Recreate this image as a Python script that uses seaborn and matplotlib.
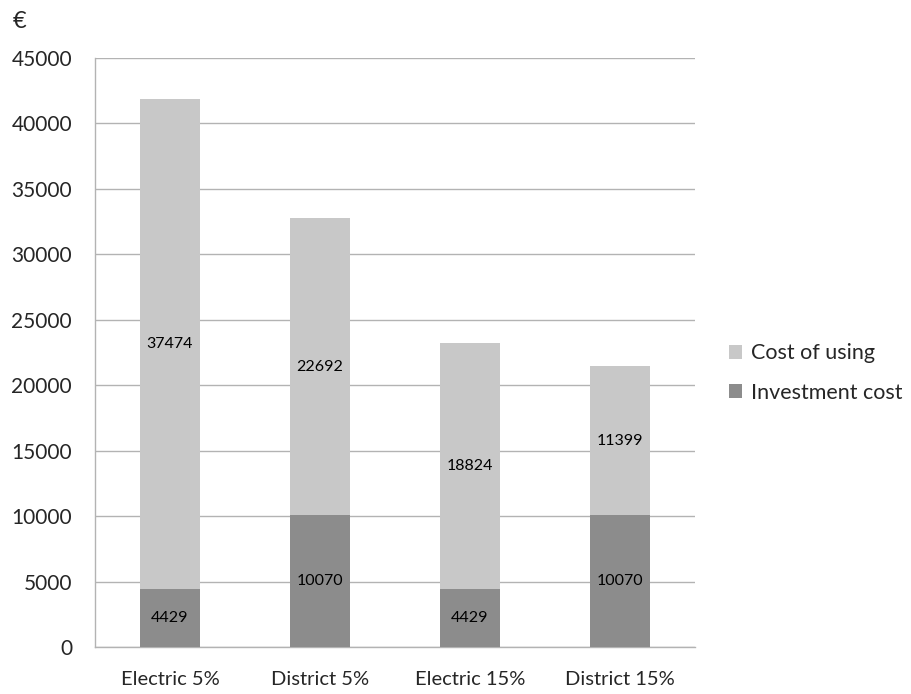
import matplotlib
matplotlib.use("Agg")
import matplotlib.pyplot as plt
import seaborn as sns
import numpy as np
import pandas as pd
from matplotlib.patches import Patch

categories = ["Electric 5%", "District 5%", "Electric 15%", "District 15%"]
investment_cost = [4429, 10070, 4429, 10070]
cost_of_using = [37474, 22692, 18824, 11399]
yticks = [0, 5000, 10000, 15000, 20000, 25000, 30000, 35000, 40000, 45000]

light = "#c8c8c8"
dark = "#8c8c8c"
gridc = "#b3b3b3"

sns.set_theme(style="white")
plt.rcParams['font.family'] = ['Lato', 'DejaVu Sans']

df = pd.DataFrame({"cat": categories,
                   "inv": investment_cost,
                   "use": cost_of_using})
df["total"] = df["inv"] + df["use"]

fig = plt.figure(figsize=(9.11, 6.94), dpi=100)
ax = fig.add_axes([95/911, 1-647/694, 600/911, 589/694])

sns.barplot(data=df, x="cat", y="total", color=light, width=0.4, ax=ax,
            saturation=1, zorder=3)
sns.barplot(data=df, x="cat", y="inv", color=dark, width=0.4, ax=ax,
            saturation=1, zorder=3)

for cont in ax.containers:
    for bar in cont:
        bar.set_edgecolor("none")
for i, (inv, use) in enumerate(zip(investment_cost, cost_of_using)):
    ax.text(i, inv / 2, f"{inv}", ha="center", va="center", fontsize=11.5,
            color="black", zorder=4)
    ax.text(i, inv + use / 2, f"{use}", ha="center", va="center", fontsize=11.5,
            color="black", zorder=4)

ax.set_xlim(-0.5, 3.5)
ax.set_ylim(0, 45000)
ax.set_yticks(yticks)
ax.set_yticklabels([str(t) for t in yticks], fontsize=15)
ax.yaxis.grid(True, color=gridc, linewidth=1, zorder=0)
ax.set_axisbelow(True)
ax.set_xlabel("")
ax.set_ylabel("")
ax.tick_params(axis="x", labelsize=14.5, length=0, pad=17)
ax.set_xticks([-0.5, 0.5, 1.5, 2.5, 3.5], minor=True)
ax.tick_params(axis="x", which="minor", length=6, color=gridc, width=1, direction="out")
ax.tick_params(axis="y", length=5.5, color=gridc, width=1, direction="out", pad=11)
for s in ["top", "right"]:
    ax.spines[s].set_visible(False)
for s in ["left", "bottom"]:
    ax.spines[s].set_color(gridc)
    ax.spines[s].set_linewidth(1)

fig.text(13/911, 1-22/694, "€", fontsize=17, ha="left", va="center")

handles = [Patch(facecolor=light, edgecolor="none", label="Cost of using"),
           Patch(facecolor=dark, edgecolor="none", label="Investment cost")]
fig.legend(handles=handles, loc="center left", bbox_to_anchor=(729/911, 1-373/694),
           frameon=False, fontsize=15.5, handlelength=0.6, handleheight=0.6,
           handletextpad=0.4, labelspacing=0.9, borderaxespad=0, borderpad=0)

fig.savefig("out.png", dpi=100)
